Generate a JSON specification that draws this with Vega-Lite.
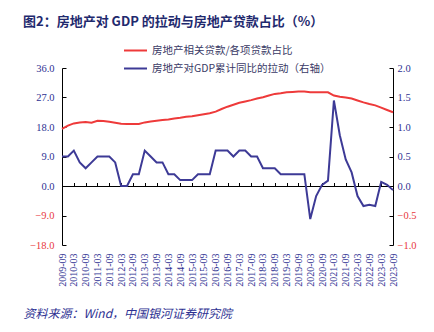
{
  "$schema": "https://vega.github.io/schema/vega-lite/v6.json",
  "width": 331,
  "height": 177,
  "autosize": {"type": "none"},
  "padding": {"left": 62, "top": 68, "right": 41, "bottom": 87},
  "background": "white",
  "title": {
    "text": "图2：房地产对 GDP 的拉动与房地产贷款占比（%）",
    "anchor": "start",
    "frame": "group",
    "dx": -39,
    "offset": 9.5,
    "font": "Noto Sans CJK SC",
    "fontSize": 13,
    "fontWeight": "bold",
    "color": "#1f2a6e"
  },
  "config": {
    "view": {"stroke": null},
    "axis": {"labelFont": "Liberation Serif", "labelFontSize": 10.5, "labelColor": "#2e3192"},
    "legend": {"labelFont": "Noto Sans CJK SC", "labelFontSize": 10.5, "labelColor": "#3a3a66", "labelLimit": 400}
  },
  "datasets": {
    "d": [
      {"q": "2009-09", "loan": 17.4, "gdp": 0.5},
      {"q": "2009-12", "loan": 18.4, "gdp": 0.5},
      {"q": "2010-03", "loan": 19.1, "gdp": 0.6},
      {"q": "2010-06", "loan": 19.4, "gdp": 0.4},
      {"q": "2010-09", "loan": 19.5, "gdp": 0.3},
      {"q": "2010-12", "loan": 19.3, "gdp": 0.4},
      {"q": "2011-03", "loan": 19.9, "gdp": 0.5},
      {"q": "2011-06", "loan": 19.8, "gdp": 0.5},
      {"q": "2011-09", "loan": 19.6, "gdp": 0.5},
      {"q": "2011-12", "loan": 19.3, "gdp": 0.4},
      {"q": "2012-03", "loan": 19.0, "gdp": 0.0},
      {"q": "2012-06", "loan": 18.9, "gdp": 0.0},
      {"q": "2012-09", "loan": 18.9, "gdp": 0.2},
      {"q": "2012-12", "loan": 18.9, "gdp": 0.2},
      {"q": "2013-03", "loan": 19.4, "gdp": 0.6},
      {"q": "2013-06", "loan": 19.7, "gdp": 0.5},
      {"q": "2013-09", "loan": 19.9, "gdp": 0.4},
      {"q": "2013-12", "loan": 20.1, "gdp": 0.4},
      {"q": "2014-03", "loan": 20.3, "gdp": 0.2},
      {"q": "2014-06", "loan": 20.6, "gdp": 0.2},
      {"q": "2014-09", "loan": 20.8, "gdp": 0.1},
      {"q": "2014-12", "loan": 21.1, "gdp": 0.1},
      {"q": "2015-03", "loan": 21.3, "gdp": 0.1},
      {"q": "2015-06", "loan": 21.6, "gdp": 0.2},
      {"q": "2015-09", "loan": 21.9, "gdp": 0.2},
      {"q": "2015-12", "loan": 22.2, "gdp": 0.2},
      {"q": "2016-03", "loan": 22.7, "gdp": 0.6},
      {"q": "2016-06", "loan": 23.5, "gdp": 0.6},
      {"q": "2016-09", "loan": 24.2, "gdp": 0.6},
      {"q": "2016-12", "loan": 24.8, "gdp": 0.5},
      {"q": "2017-03", "loan": 25.4, "gdp": 0.6},
      {"q": "2017-06", "loan": 25.8, "gdp": 0.6},
      {"q": "2017-09", "loan": 26.2, "gdp": 0.5},
      {"q": "2017-12", "loan": 26.7, "gdp": 0.5},
      {"q": "2018-03", "loan": 27.1, "gdp": 0.3},
      {"q": "2018-06", "loan": 27.6, "gdp": 0.3},
      {"q": "2018-09", "loan": 28.1, "gdp": 0.3},
      {"q": "2018-12", "loan": 28.3, "gdp": 0.2},
      {"q": "2019-03", "loan": 28.6, "gdp": 0.2},
      {"q": "2019-06", "loan": 28.7, "gdp": 0.2},
      {"q": "2019-09", "loan": 28.8, "gdp": 0.2},
      {"q": "2019-12", "loan": 28.8, "gdp": 0.2},
      {"q": "2020-03", "loan": 28.6, "gdp": -0.56},
      {"q": "2020-06", "loan": 28.6, "gdp": -0.17},
      {"q": "2020-09", "loan": 28.6, "gdp": 0.02},
      {"q": "2020-12", "loan": 28.6, "gdp": 0.09},
      {"q": "2021-03", "loan": 27.6, "gdp": 1.45},
      {"q": "2021-06", "loan": 27.2, "gdp": 0.86},
      {"q": "2021-09", "loan": 27.0, "gdp": 0.45},
      {"q": "2021-12", "loan": 26.7, "gdp": 0.23},
      {"q": "2022-03", "loan": 26.1, "gdp": -0.17},
      {"q": "2022-06", "loan": 25.5, "gdp": -0.34},
      {"q": "2022-09", "loan": 25.0, "gdp": -0.32},
      {"q": "2022-12", "loan": 24.6, "gdp": -0.34},
      {"q": "2023-03", "loan": 23.9, "gdp": 0.07},
      {"q": "2023-06", "loan": 23.2, "gdp": 0.02},
      {"q": "2023-09", "loan": 22.5, "gdp": -0.07}
    ]
  },
  "data": {"name": "d"},
  "layer": [
    {
      "mark": {"type": "line", "strokeWidth": 2},
      "encoding": {
        "x": {
          "field": "q",
          "type": "ordinal",
          "scale": {"type": "point", "padding": 0},
          "axis": {
            "values": ["2009-09","2010-03","2010-09","2011-03","2011-09","2012-03","2012-09","2013-03","2013-09","2014-03","2014-09","2015-03","2015-09","2016-03","2016-09","2017-03","2017-09","2018-03","2018-09","2019-03","2019-09","2020-03","2020-09","2021-03","2021-09","2022-03","2022-09","2023-03","2023-09"],
            "labelAngle": -90,
            "labelAlign": "right",
            "labelBaseline": "middle",
            "labelPadding": 8,
            "labelFontSize": 10,
            "labelOverlap": false,
            "labelFlush": false,
            "ticks": false,
            "domain": false,
            "grid": true,
            "gridColor": "#000000",
            "gridWidth": 1,
            "gridDash": [0, 114.5, 3.5, 400],
            "title": "资料来源：Wind，中国银河证券研究院",
            "titleFont": "Noto Sans CJK SC",
            "titleFontSize": 12,
            "titleFontStyle": "italic",
            "titleFontWeight": "normal",
            "titleColor": "#2e3192",
            "titleAnchor": "start",
            "titleAlign": "left",
            "titleBaseline": "middle",
            "titleX": -39,
            "titleY": 68
          }
        },
        "y": {
          "field": "loan",
          "type": "quantitative",
          "scale": {"domain": [-18, 36], "nice": false, "zero": false},
          "axis": {
            "orient": "left",
            "values": [-18, -9, 0, 9, 18, 27, 36],
            "format": ".1f",
            "title": null,
            "domain": true,
            "domainColor": "#000000",
            "tickColor": "#000000",
            "tickSize": -4,
            "labelPadding": 12,
            "grid": true,
            "gridColor": "#000000",
            "gridWidth": 1,
            "gridOpacity": {"condition": {"test": "datum.value === 0", "value": 1}, "value": 0},
            "labelColor": {"condition": {"test": "datum.value < 0", "value": "#e8383d"}, "value": "#2e3192"}
          }
        },
        "color": {
          "datum": "房地产相关贷款/各项贷款占比",
          "type": "nominal",
          "scale": {"domain": ["房地产相关贷款/各项贷款占比", "房地产对GDP累计同比的拉动（右轴）"], "range": ["#ee3a3a", "#3d3a96"]},
          "legend": {
            "orient": "none",
            "legendX": 61,
            "legendY": -30,
            "title": null,
            "symbolType": "stroke",
            "symbolStrokeWidth": 2,
            "symbolSize": 529,
            "rowPadding": -4,
            "labelOffset": 4
          }
        }
      }
    },
    {
      "mark": {"type": "line", "strokeWidth": 2},
      "encoding": {
        "x": {"field": "q", "type": "ordinal"},
        "y": {
          "field": "gdp",
          "type": "quantitative",
          "scale": {"domain": [-1, 2], "nice": false, "zero": false},
          "axis": {
            "orient": "right",
            "values": [-1, -0.5, 0, 0.5, 1, 1.5, 2],
            "format": ".1f",
            "title": null,
            "grid": false,
            "domain": true,
            "domainColor": "#000000",
            "tickColor": "#000000",
            "tickSize": -4,
            "labelPadding": 8,
            "labelColor": {"condition": {"test": "datum.value < 0", "value": "#e8383d"}, "value": "#2e3192"}
          }
        },
        "color": {"datum": "房地产对GDP累计同比的拉动（右轴）", "type": "nominal"}
      }
    }
  ],
  "resolve": {"scale": {"y": "independent"}, "axis": {"y": "independent"}}
}
